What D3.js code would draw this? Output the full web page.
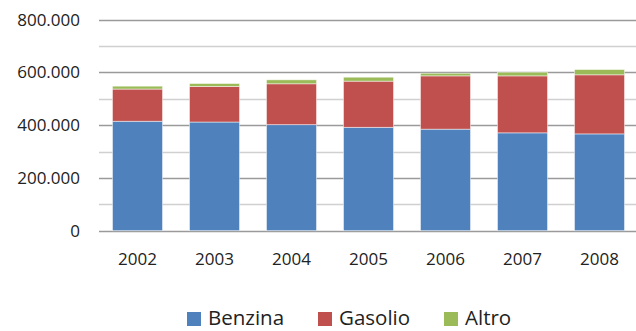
<!DOCTYPE html>
<html><head><meta charset="utf-8">
<script src="https://cdn.jsdelivr.net/npm/d3@7"></script>
<style>body{margin:0;background:#fff;} svg{display:block;}</style>
</head><body>
<svg id="c" width="636" height="331"></svg>
<script>
const years = ["2002","2003","2004","2005","2006","2007","2008"];
const benzina = [415000, 412000, 402000, 392000, 385000, 371000, 367000];
const gasolio = [122000, 135000, 155000, 175000, 202000, 216000, 224000];
const altro   = [11000, 11000, 15000, 15000, 10000, 14000, 20000];
const seriesNames = ["Benzina","Gasolio","Altro"];
const colors = ["#4F81BD","#C0504D","#9BBB59"];
const yTicks = [0, 200000, 400000, 600000, 800000];
const yMinor = [100000, 300000, 500000, 700000];

const svg = d3.select("#c");
const font = "'Open Sans', sans-serif";
const x = d3.scaleBand().domain(years).range([99, 638]).paddingInner(0.35).paddingOuter(0.175);
const y = d3.scaleLinear().domain([0, 800000]).range([230.7, 19.7]);

// minor gridlines
svg.append("g").selectAll("line").data(yMinor).join("line")
  .attr("x1", 99).attr("x2", 636)
  .attr("y1", d => Math.round(y(d)) + 0.5).attr("y2", d => Math.round(y(d)) + 0.5)
  .attr("stroke", "#d0d0d0").attr("stroke-width", 1.5);
// major gridlines
svg.append("g").selectAll("line").data(yTicks).join("line")
  .attr("x1", 99).attr("x2", 636)
  .attr("y1", d => Math.round(y(d)) + 0.5).attr("y2", d => Math.round(y(d)) + 0.5)
  .attr("stroke", "#9a9a9a").attr("stroke-width", 1.5);

const table = years.map((yr, i) => ({year: yr, Benzina: benzina[i], Gasolio: gasolio[i], Altro: altro[i]}));
const stack = d3.stack().keys(seriesNames)(table);

svg.append("g").selectAll("g").data(stack).join("g")
  .attr("fill", (d, i) => colors[i])
  .selectAll("rect").data(d => d).join("rect")
  .attr("x", d => x(d.data.year))
  .attr("width", x.bandwidth())
  .attr("y", d => y(d[1]))
  .attr("height", d => y(d[0]) - y(d[1]))
  .attr("stroke", "rgba(255,255,255,0.6)").attr("stroke-width", 0.8);

// y axis labels
const fmt = v => v === 0 ? "0" : d3.format(",")(v).replace(/,/g, ".");
svg.append("g").selectAll("text").data(yTicks).join("text")
  .attr("x", 80).attr("y", d => y(d)).attr("dy", "0.35em")
  .attr("text-anchor", "end").attr("font-family", font).attr("font-size", 17)
  .attr("fill", "#222").text(fmt);

// x axis labels
svg.append("g").selectAll("text").data(years).join("text")
  .attr("x", d => x(d) + x.bandwidth() / 2).attr("y", 265)
  .attr("text-anchor", "middle").attr("font-family", font).attr("font-size", 17)
  .attr("fill", "#222").text(d => d);

// legend
const legX = [187, 318, 444];
const leg = svg.append("g").selectAll("g").data(seriesNames).join("g")
  .attr("transform", (d, i) => `translate(${legX[i]},0)`);
leg.append("rect").attr("x", 0).attr("y", 312).attr("width", 14).attr("height", 14)
  .attr("fill", (d, i) => colors[i]);
leg.append("text").attr("x", 21).attr("y", 324.8).attr("font-family", font).attr("font-size", 20.5)
  .attr("fill", "#222").text(d => d);
</script>
</body></html>
